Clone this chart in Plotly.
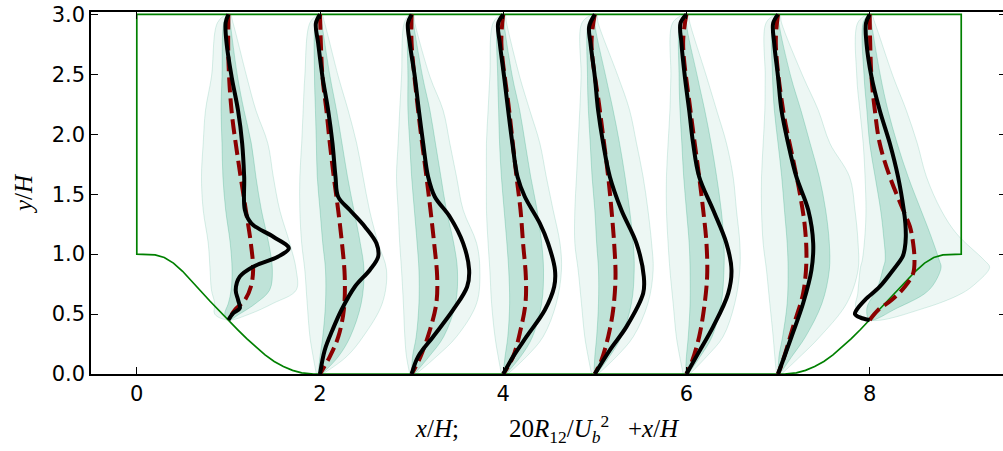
import plotly.graph_objects as go

# ---------------- data ----------------
STATIONS = [1, 2, 3, 4, 5, 6, 7, 8]

# hill profile (descending half), x/H and y/H
HILL_X = [0.0, 0.1, 0.2, 0.3, 0.4, 0.5, 0.6, 0.7, 0.8, 0.9, 1.0, 1.1, 1.2, 1.3, 1.4, 1.5, 1.6, 1.7, 1.8, 1.929]
HILL_Y = [1.0, 1.0, 0.994, 0.972, 0.925, 0.857, 0.776, 0.690, 0.607, 0.527, 0.448, 0.371, 0.295, 0.223, 0.159, 0.105, 0.062, 0.030, 0.010, 0.0]
CHANNEL_LENGTH = 9.0
CHANNEL_HEIGHT = 3.0

# DNS (truth) profiles: y/H and 20 R12/Ub^2 offsets
dns_y = [
    [3.0, 2.93, 2.76, 2.48, 2.2, 1.925, 1.646, 1.368, 1.257, 1.145, 1.049, 0.979, 0.895, 0.812, 0.70, 0.617, 0.548, 0.506, 0.45],
    [3.0, 2.926, 2.759, 2.48, 2.2, 1.925, 1.646, 1.479, 1.368, 1.229, 1.09, 0.979, 0.868, 0.728, 0.534, 0.367, 0.2, 0.0],
    [3.0, 2.926, 2.759, 2.48, 2.2, 1.925, 1.646, 1.479, 1.312, 1.09, 0.868, 0.728, 0.534, 0.311, 0.145, 0.0],
    [3.0, 2.926, 2.759, 2.48, 2.2, 1.925, 1.646, 1.479, 1.257, 1.09, 0.868, 0.728, 0.534, 0.311, 0.145, 0.0],
    [3.0, 2.897, 2.759, 2.48, 2.2, 1.925, 1.646, 1.368, 1.09, 0.812, 0.673, 0.395, 0.2, 0.0],
    [3.0, 2.926, 2.759, 2.48, 2.2, 1.925, 1.646, 1.368, 1.09, 0.868, 0.673, 0.395, 0.172, 0.0],
    [3.0, 2.926, 2.759, 2.48, 2.2, 1.925, 1.646, 1.368, 1.09, 0.868, 0.59, 0.311, 0.117, 0.0],
    [3.0, 2.926, 2.759, 2.48, 2.2, 1.925, 1.646, 1.368, 1.257, 1.145, 1.049, 0.979, 0.868, 0.728, 0.617, 0.534, 0.50, 0.47, 0.45],
]
dns_dx = [
    [0.0, -0.03, -0.02, 0.035, 0.105, 0.15, 0.172, 0.18, 0.25, 0.49, 0.66, 0.54, 0.27, 0.124, 0.08, 0.106, 0.124, 0.05, 0.0],
    [0.0, -0.045, -0.02, 0.027, 0.089, 0.136, 0.169, 0.198, 0.325, 0.49, 0.616, 0.635, 0.544, 0.38, 0.234, 0.136, 0.052, 0.0],
    [0.0, -0.04, -0.02, 0.035, 0.079, 0.126, 0.18, 0.253, 0.417, 0.563, 0.628, 0.606, 0.453, 0.235, 0.071, 0.0],
    [0.0, -0.055, -0.037, 0.01, 0.054, 0.1, 0.156, 0.236, 0.4, 0.49, 0.565, 0.556, 0.454, 0.254, 0.108, 0.0],
    [0.0, -0.062, -0.047, 0.0, 0.036, 0.091, 0.164, 0.29, 0.455, 0.535, 0.528, 0.346, 0.164, 0.0],
    [0.0, -0.065, -0.054, -0.017, 0.03, 0.073, 0.139, 0.292, 0.437, 0.492, 0.456, 0.292, 0.128, 0.0],
    [0.0, -0.053, -0.042, 0.0, 0.038, 0.11, 0.2, 0.33, 0.384, 0.365, 0.274, 0.147, 0.056, 0.0],
    [0.0, -0.04, -0.034, 0.02, 0.11, 0.22, 0.31, 0.373, 0.39, 0.395, 0.384, 0.36, 0.257, 0.11, -0.052, -0.143, -0.16, -0.1, 0.0],
]

# ensemble mean profiles
mean_y = [
    [3.0, 2.62, 2.2, 1.786, 1.368, 1.09, 0.868, 0.728, 0.617, 0.534, 0.45],
    [3.0, 2.48, 2.2, 1.925, 1.646, 1.368, 1.09, 0.812, 0.534, 0.311, 0.145, 0.0],
    [3.0, 2.759, 2.2, 1.646, 1.368, 1.09, 0.812, 0.59, 0.367, 0.145, 0.0],
    [3.0, 2.759, 2.2, 1.646, 1.368, 1.09, 0.812, 0.59, 0.367, 0.145, 0.0],
    [3.0, 2.759, 2.2, 1.646, 1.368, 1.09, 0.812, 0.534, 0.311, 0.117, 0.0],
    [3.0, 2.759, 2.2, 1.646, 1.368, 1.09, 0.812, 0.534, 0.311, 0.117, 0.0],
    [3.0, 2.759, 2.2, 1.786, 1.507, 1.229, 0.951, 0.673, 0.395, 0.117, 0.0],
    [3.0, 2.48, 2.2, 1.925, 1.646, 1.368, 1.229, 1.09, 0.951, 0.84, 0.728, 0.617, 0.534, 0.45],
]
mean_dx = [
    [0.0, 0.0, 0.034, 0.106, 0.19, 0.245, 0.27, 0.245, 0.18, 0.07, 0.0],
    [0.0, 0.027, 0.07, 0.107, 0.15, 0.198, 0.24, 0.27, 0.26, 0.2, 0.107, 0.0],
    [0.0, 0.0, 0.071, 0.162, 0.206, 0.246, 0.279, 0.27, 0.2, 0.097, 0.0],
    [0.0, -0.02, 0.065, 0.145, 0.189, 0.217, 0.247, 0.243, 0.189, 0.108, 0.0],
    [0.0, -0.036, 0.055, 0.146, 0.182, 0.211, 0.226, 0.2, 0.146, 0.073, 0.0],
    [0.0, -0.036, 0.044, 0.139, 0.183, 0.219, 0.226, 0.19, 0.139, 0.066, 0.0],
    [0.0, -0.024, 0.056, 0.165, 0.238, 0.293, 0.31, 0.274, 0.165, 0.056, 0.0],
    [0.0, 0.02, 0.057, 0.11, 0.22, 0.366, 0.44, 0.475, 0.49, 0.475, 0.384, 0.24, 0.093, 0.0],
]

# ensemble spread: outer envelope and dense core (offsets)
GRID_MID = [0.0, 0.145, 0.311, 0.59, 0.868, 1.09, 1.368, 1.646, 1.925, 2.2, 2.48, 2.93, 3.0]
env_y = [
    [0.45, 0.5, 0.59, 0.7, 0.868, 1.09, 1.368, 1.646, 1.925, 2.2, 2.48, 2.93, 3.0],
    GRID_MID, GRID_MID, GRID_MID, GRID_MID, GRID_MID, GRID_MID,
    [0.45, 0.55, 0.67, 0.75, 0.89, 0.95, 1.17, 1.368, 1.646, 1.925, 2.2, 2.48, 2.93, 3.0],
]
env_lo = [
    [0.0, -0.15, -0.15, -0.185, -0.2, -0.22, -0.275, -0.294, -0.275, -0.25, -0.185, -0.12, -0.02],
    [-0.04, -0.075, -0.11, -0.14, -0.166, -0.2, -0.22, -0.22, -0.2, -0.184, -0.166, -0.11, -0.02],
    [-0.02, -0.056, -0.074, -0.09, -0.11, -0.13, -0.147, -0.165, -0.147, -0.13, -0.11, -0.08, -0.02],
    [-0.02, -0.055, -0.09, -0.127, -0.146, -0.165, -0.183, -0.183, -0.183, -0.165, -0.146, -0.11, -0.02],
    [-0.036, -0.073, -0.11, -0.146, -0.182, -0.218, -0.218, -0.2, -0.182, -0.164, -0.15, -0.14, -0.02],
    [-0.036, -0.073, -0.11, -0.145, -0.18, -0.2, -0.218, -0.218, -0.2, -0.18, -0.17, -0.15, -0.02],
    [-0.017, -0.035, -0.053, -0.09, -0.126, -0.162, -0.18, -0.18, -0.162, -0.144, -0.14, -0.13, -0.02],
    [0.0, -0.15, -0.13, -0.12, -0.1, -0.08, -0.05, -0.04, -0.05, -0.07, -0.107, -0.14, -0.13, -0.02],
]
env_hi = [
    [0.0, 0.23, 0.49, 0.74, 0.74, 0.67, 0.56, 0.49, 0.43, 0.3, 0.2, 0.05, 0.02],
    [0.03, 0.29, 0.47, 0.68, 0.726, 0.635, 0.54, 0.47, 0.4, 0.307, 0.2, 0.05, 0.02],
    [0.05, 0.27, 0.49, 0.71, 0.745, 0.71, 0.563, 0.49, 0.417, 0.344, 0.2, 0.035, 0.02],
    [0.05, 0.254, 0.436, 0.58, 0.636, 0.62, 0.545, 0.47, 0.4, 0.29, 0.18, 0.036, 0.02],
    [0.036, 0.236, 0.42, 0.58, 0.637, 0.62, 0.58, 0.527, 0.455, 0.38, 0.255, 0.036, 0.02],
    [0.037, 0.22, 0.4, 0.528, 0.583, 0.583, 0.546, 0.51, 0.437, 0.33, 0.22, 0.037, 0.02],
    [0.038, 0.24, 0.457, 0.75, 0.874, 0.874, 0.84, 0.78, 0.566, 0.44, 0.274, 0.038, 0.02],
    [0.0, 0.6, 1.0, 1.15, 1.31, 1.25, 0.95, 0.78, 0.62, 0.52, 0.40, 0.257, 0.057, 0.02],
]
core_lo = [
    [0.0, -0.04, 0.0, 0.03, 0.04, 0.02, -0.03, -0.06, -0.07, -0.08, -0.07, -0.05, -0.01],
    [-0.02, 0.0, 0.03, 0.06, 0.06, 0.03, 0.0, -0.03, -0.04, -0.05, -0.06, -0.05, -0.01],
    [0.0, 0.01, 0.05, 0.08, 0.08, 0.06, 0.03, 0.0, -0.02, -0.04, -0.04, -0.04, -0.01],
    [0.0, 0.02, 0.05, 0.07, 0.06, 0.04, 0.01, -0.02, -0.04, -0.05, -0.06, -0.06, -0.01],
    [-0.01, 0.0, 0.02, 0.04, 0.04, 0.02, 0.0, -0.03, -0.05, -0.07, -0.08, -0.07, -0.01],
    [-0.01, 0.0, 0.02, 0.04, 0.04, 0.03, 0.0, -0.03, -0.05, -0.07, -0.08, -0.07, -0.01],
    [0.0, 0.01, 0.05, 0.1, 0.11, 0.1, 0.07, 0.04, 0.0, -0.04, -0.06, -0.06, -0.01],
    [0.0, -0.03, 0.05, 0.1, 0.15, 0.17, 0.15, 0.12, 0.06, 0.0, -0.03, -0.06, -0.07, -0.01],
]
core_hi = [
    [0.0, 0.12, 0.3, 0.45, 0.48, 0.44, 0.36, 0.3, 0.25, 0.17, 0.1, 0.02, 0.01],
    [0.02, 0.2, 0.33, 0.45, 0.48, 0.44, 0.37, 0.3, 0.24, 0.18, 0.11, 0.02, 0.01],
    [0.03, 0.19, 0.35, 0.48, 0.5, 0.46, 0.38, 0.32, 0.26, 0.2, 0.12, 0.02, 0.01],
    [0.03, 0.19, 0.32, 0.42, 0.44, 0.42, 0.37, 0.3, 0.24, 0.18, 0.1, 0.01, 0.01],
    [0.02, 0.16, 0.29, 0.4, 0.43, 0.42, 0.38, 0.33, 0.27, 0.2, 0.12, 0.0, 0.01],
    [0.02, 0.15, 0.28, 0.38, 0.41, 0.41, 0.38, 0.33, 0.27, 0.2, 0.12, 0.0, 0.01],
    [0.02, 0.15, 0.3, 0.48, 0.56, 0.56, 0.52, 0.45, 0.35, 0.25, 0.14, 0.01, 0.01],
    [0.0, 0.3, 0.6, 0.7, 0.78, 0.76, 0.66, 0.56, 0.42, 0.3, 0.2, 0.12, 0.02, 0.01],
]

X_TICKS = [0, 2, 4, 6, 8]
Y_TICKS = [0.0, 0.5, 1.0, 1.5, 2.0, 2.5, 3.0]
Y_TICK_TEXT = ["0.0", "0.5", "1.0", "1.5", "2.0", "2.5", "3.0"]

# ---------------- figure ----------------
TEAL = "27,158,119"
fig = go.Figure()

# ensemble spread bands
for k, st in enumerate(STATIONS):
    ys = env_y[k]
    yo = list(ys) + list(ys)[::-1]
    xo = [st + v for v in env_lo[k]] + [st + v for v in env_hi[k]][::-1]
    fig.add_trace(go.Scatter(x=xo, y=yo, mode="lines", fill="toself",
                             fillcolor=f"rgba({TEAL},0.08)",
                             line=dict(color=f"rgba({TEAL},0.16)", width=1, shape="spline"),
                             hoverinfo="skip", showlegend=False))
    xc = [st + v for v in core_lo[k]] + [st + v for v in core_hi[k]][::-1]
    fig.add_trace(go.Scatter(x=xc, y=yo, mode="lines", fill="toself",
                             fillcolor=f"rgba({TEAL},0.22)",
                             line=dict(color=f"rgba({TEAL},0.25)", width=1, shape="spline"),
                             hoverinfo="skip", showlegend=False))

# geometry
geo_x = [0.0, CHANNEL_LENGTH, CHANNEL_LENGTH]
geo_y = [CHANNEL_HEIGHT, CHANNEL_HEIGHT, HILL_Y[0]]
geo_x += [CHANNEL_LENGTH - v for v in HILL_X]
geo_y += list(HILL_Y)
geo_x += list(HILL_X)[::-1]
geo_y += list(HILL_Y)[::-1]
geo_x += [0.0]
geo_y += [CHANNEL_HEIGHT]
fig.add_trace(go.Scatter(x=geo_x, y=geo_y, mode="lines",
                         line=dict(color="#008000", width=1.7),
                         hoverinfo="skip", showlegend=False))

# ensemble mean
for k, st in enumerate(STATIONS):
    fig.add_trace(go.Scatter(x=[st + v for v in mean_dx[k]], y=mean_y[k], mode="lines",
                             line=dict(color="#8b0000", width=4, dash="15px,6px", shape="spline"),
                             hoverinfo="skip", showlegend=False))

# DNS
for k, st in enumerate(STATIONS):
    fig.add_trace(go.Scatter(x=[st + v for v in dns_dx[k]], y=dns_y[k], mode="lines",
                             line=dict(color="black", width=4, shape="spline"),
                             hoverinfo="skip", showlegend=False))

# right-hand tick marks
fig.add_trace(go.Scatter(x=[None], y=[None], yaxis="y2", showlegend=False, hoverinfo="skip"))

tick_font = dict(family="DejaVu Sans", size=21, color="black")
math_font = dict(family="Liberation Serif", size=25, color="black")
sp = "\u00a0"

fig.update_layout(
    width=1003, height=451,
    margin=dict(l=91, r=0, t=12, b=77),
    paper_bgcolor="white", plot_bgcolor="white",
    showlegend=False,
    xaxis=dict(range=[-0.5, 9.456], tickvals=X_TICKS, ticktext=[str(v) for v in X_TICKS],
               ticks="inside", ticklen=7, tickwidth=1, tickcolor="black",
               showline=True, linecolor="black", linewidth=1.5, mirror="ticks",
               showgrid=False, zeroline=False, tickfont=tick_font,
               title=dict(text=f"<i>x</i>/<i>H</i>;{sp*8}20<i>R</i><sub>12</sub>/<i>U</i><sub><i>b</i></sub><sup>2</sup>{sp*3}+<i>x</i>/<i>H</i>",
                          font=math_font, standoff=15)),
    yaxis=dict(range=[0, 3.02], tickvals=Y_TICKS, ticktext=Y_TICK_TEXT,
               ticks="inside", ticklen=7, tickwidth=1, tickcolor="black",
               showline=True, linecolor="black", linewidth=1.5,
               showgrid=False, zeroline=False, tickfont=tick_font,
               title=dict(text="<i>y</i>/<i>H</i>", font=math_font, standoff=12)),
    yaxis2=dict(range=[0, 3.02], overlaying="y", side="right", tickvals=Y_TICKS,
                ticks="inside", ticklen=4, tickwidth=1, tickcolor="black",
                showticklabels=False, showline=False, showgrid=False, zeroline=False),
)

fig.write_html("out.html")
